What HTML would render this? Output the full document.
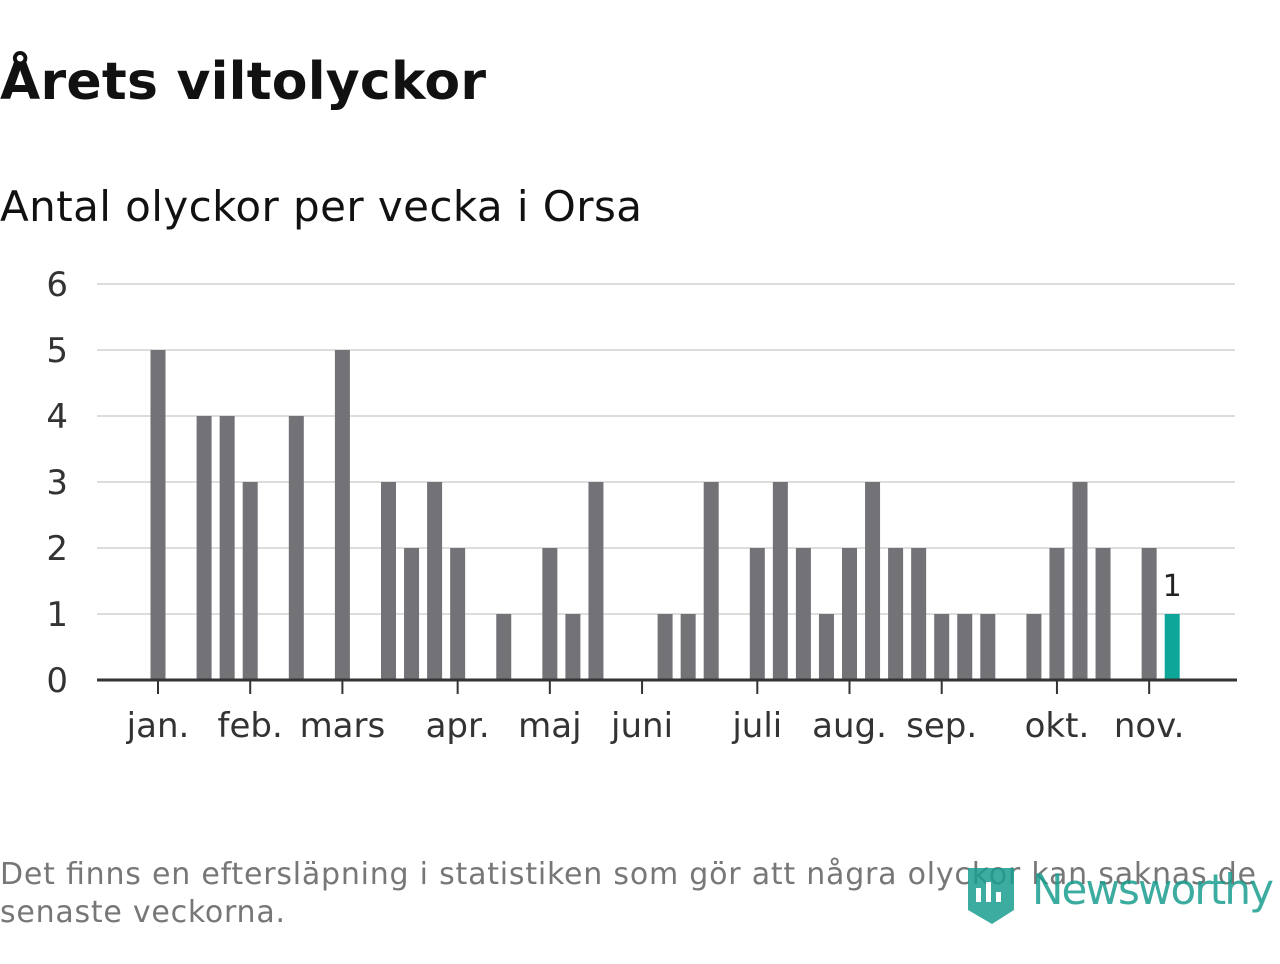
<!DOCTYPE html>
<html><head><meta charset="utf-8"><style>
body{margin:0;width:1280px;height:960px;background:#fff;overflow:hidden;font-family:"DejaVu Sans","Liberation Sans",sans-serif;}
</style></head><body>
<svg width="1280" height="960" xmlns="http://www.w3.org/2000/svg">
<text x="0" y="99" font-size="52" font-weight="bold" fill="#111" font-family="DejaVu Sans, sans-serif" textLength="486">Årets viltolyckor</text>
<text x="0" y="221" font-size="42" fill="#111" textLength="642">Antal olyckor per vecka i Orsa</text>
<g id="grid"></g><g id="bars"></g><g id="xaxis"></g>
<text x="0" y="884" font-size="30" fill="#777" textLength="1256">Det finns en eftersläpning i statistiken som gör att några olyckor kan saknas de</text>
<text x="0" y="922" font-size="30" fill="#777" textLength="285">senaste veckorna.</text>
<g opacity="0.85">
<path d="M968 868 h46 v42 l-22 14 l-24 -14 z" fill="#1a9e8f"/>
<rect x="976" y="888" width="5" height="14" fill="#fff"/><rect x="986" y="882" width="5" height="20" fill="#fff"/><rect x="996" y="892" width="5" height="10" fill="#fff"/>
<text x="1032" y="904" font-size="42" fill="#1a9e8f" textLength="242">Newsworthy</text>
</g>
</svg>
<script>
const values=[5,0,4,4,3,0,4,0,5,0,3,2,3,2,0,1,0,2,1,3,0,0,1,1,3,0,2,3,2,1,2,3,2,2,1,1,1,0,1,2,3,2,0,2,1];
const yTicks=[0,1,2,3,4,5,6];
const monthLabels=["jan.","feb.","mars","apr.","maj","juni","juli","aug.","sep.","okt.","nov."];
const monthWeek=[0,4,8,13,17,21,26,30,34,39,43];
const NS="http://www.w3.org/2000/svg";
const x0=158,step=23.05,y0=680,unit=66;
const xs=i=>x0+i*step, ys=v=>y0-v*unit;
function mk(t,a,p){const e=document.createElementNS(NS,t);for(const k in a)e.setAttribute(k,a[k]);p.appendChild(e);return e;}
const g=document.getElementById('grid'),b=document.getElementById('bars'),xa=document.getElementById('xaxis');
yTicks.forEach(v=>{
 if(v>0){const l=mk('line',{x1:97,x2:1235,y1:ys(v),y2:ys(v),stroke:'#ddd','stroke-width':2},g);
 
 }
 const t=mk('text',{x:68,y:ys(v)+12,'font-size':34,fill:'#333','text-anchor':'end'},g);t.textContent=v;
 
 
});
values.forEach((v,i)=>{
 if(v<=0)return;
 const last=i===values.length-1;
 const r=mk('rect',{x:xs(i)-7.5,y:ys(v),width:15,height:v*unit,fill:last?'#0fa69a':'#737277'},b);
 
 
 if(last){const t=mk('text',{x:xs(i),y:ys(v)-18,'font-size':30,fill:'#222','text-anchor':'middle'},b);t.textContent=v;
 
 }
});
const ax=mk('line',{x1:97,x2:1237,y1:y0,y2:y0,stroke:'#333','stroke-width':3},xa);


monthWeek.forEach((w,i)=>{
 const x=xs(w);
 const tk=mk('line',{x1:x,x2:x,y1:y0,y2:y0+14,stroke:'#333','stroke-width':2},xa);
 
 
 const t=mk('text',{x:x,y:737,'font-size':34,fill:'#333','text-anchor':'middle'},xa);t.textContent=monthLabels[i];
 
 
});
</script>
</body></html>
